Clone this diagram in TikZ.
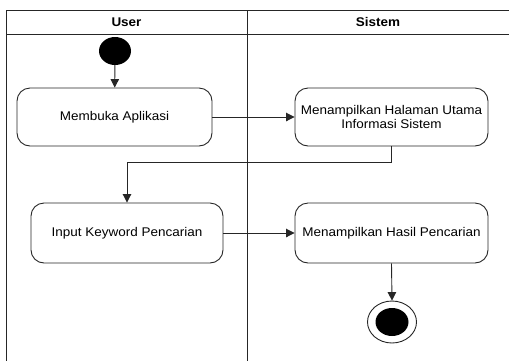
\documentclass[tikz,border=0pt]{standalone}
\usepackage{fontspec}
\setmainfont{Liberation Sans}[FakeStretch=1.07]
\usetikzlibrary{arrows.meta,shapes.geometric}
\begin{document}
\begin{tikzpicture}[x=1pt,y=-1pt,
  line/.style={draw=black!85, line width=0.9pt},
  act/.style={line, rounded corners=13pt, inner sep=0pt, align=center,
    font=\fontsize{12.6}{14}\selectfont},
  flow/.style={line, -{Triangle[length=8.5pt,width=8.5pt]}},
  hdr/.style={font=\fontsize{12.6}{14}\selectfont\bfseries}]
\useasboundingbox (0,0) rectangle (509,360);
\begin{scope}
\clip (0,0) rectangle (509,360);
% swimlane frame
\draw[line] (6,370) -- (6,10) -- (520,10);
\draw[line] (6,34) -- (520,34);
\draw[line] (247,10) -- (247,370);
\end{scope}
\node[hdr] (huser) at (126.5,22) {User};
\node[hdr] (hsis) at (378,22) {Sistem};
% start
\node[fill=black, shape=ellipse, minimum width=32pt, minimum height=28pt, inner sep=0pt] (start) at (115,51) {};
% activities
\node[act, minimum width=195pt, minimum height=58pt] (a1) at (114.5,117) {Membuka Aplikasi};
\node[act, minimum width=193pt, minimum height=58pt] (a2) at (391.5,117) {Menampilkan Halaman Utama\\Informasi Sistem};
\node[act, minimum width=192pt, minimum height=60pt] (a3) at (127,233) {Input Keyword Pencarian};
\node[act, minimum width=193pt, minimum height=60pt] (a4) at (391.5,233) {Menampilkan Hasil Pencarian};
% end
\node[line, shape=ellipse, minimum width=49pt, minimum height=42pt, inner sep=0pt] (endo) at (392,322) {};
\node[fill=black, shape=ellipse, minimum width=33pt, minimum height=28pt, inner sep=0pt] (endi) at (392,322) {};
% flows
\draw[flow] (start) -- (a1);
\draw[flow] (a1) -- (a2);
\draw[flow] (a2.south) -- ++(0,16) -| (a3.north);
\draw[flow] (a3) -- (a4);
\draw[flow] (a4.south) -- (endo.north);
\end{tikzpicture}
\end{document}
